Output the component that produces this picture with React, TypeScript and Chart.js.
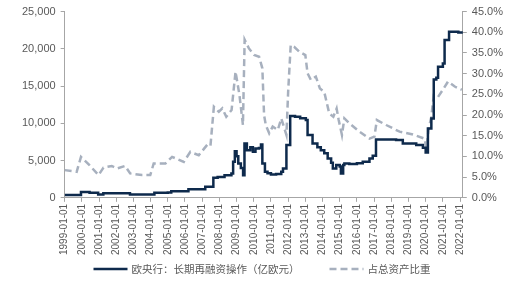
import React, { useEffect, useRef } from "react";
import { Chart, registerables } from "chart.js";

Chart.register(...registerables);

// LTRO outstanding (亿欧元), stepped series: [decimal year, value]
const ltroYears = [
  1999.0, 1999.95, 2000.45, 2000.95, 2001.25, 2002.55, 2002.8, 2004.15, 2004.22, 2005.0,
  2005.2, 2006.2, 2007.18, 2007.65, 2007.9, 2008.3, 2008.7, 2008.8, 2008.9, 2009.0,
  2009.1, 2009.25, 2009.38, 2009.46, 2009.6, 2009.8, 2009.95, 2010.1, 2010.3, 2010.42,
  2010.5, 2010.65, 2010.8, 2011.0, 2011.3, 2011.6, 2011.7, 2011.9, 2012.12, 2012.4,
  2012.7, 2013.03, 2013.13, 2013.42, 2013.7, 2013.9, 2014.1, 2014.3, 2014.5, 2014.6,
  2014.8, 2015.0, 2015.07, 2015.2, 2015.27, 2015.56, 2016.0, 2016.34, 2016.73, 2016.92,
  2017.11, 2018.28, 2018.67, 2019.45, 2019.84, 2020.0, 2020.13, 2020.33, 2020.47, 2020.62,
  2020.72, 2021.0, 2021.1, 2021.36, 2021.9, 2022.16,
];
const ltroValues = [
  380, 800, 700, 450, 630, 630, 440, 440, 670, 710,
  900, 1170, 1480, 2690, 2800, 3050, 3270, 4840, 6270, 5600,
  4600, 4000, 3050, 7300, 6400, 6800, 6200, 6630, 6700, 7150,
  4600, 3500, 3300, 3130, 3200, 3500, 3940, 7080, 10980, 10900,
  10700, 10440, 8420, 7300, 6800, 6400, 6000, 5280, 4700, 3940,
  4400, 4200, 3270, 4400, 4600, 4530, 4650, 4840, 5280, 5650,
  7840, 7750, 7300, 7080, 6720, 6090, 9310, 10660, 15900, 16130,
  17600, 18050, 21200, 22300, 22200, 22040,
];

// Share of total assets (%): [decimal year, value]
const ratioYears = [
  1999.0, 1999.7, 1999.95, 2000.4, 2000.97, 2001.26, 2001.74, 2002.04, 2002.52, 2002.81,
  2003.5, 2003.98, 2004.18, 2004.86, 2005.25, 2005.93, 2006.31, 2006.8, 2007.29, 2007.48,
  2007.68, 2007.97, 2008.17, 2008.4, 2008.71, 2008.94, 2009.17, 2009.37, 2009.47, 2009.72,
  2010.02, 2010.31, 2010.5, 2010.6, 2010.7, 2010.9, 2011.1, 2011.4, 2011.6, 2011.9,
  2012.0, 2012.15, 2012.35, 2012.65, 2013.0, 2013.13, 2013.32, 2013.61, 2013.85, 2014.1,
  2014.39, 2014.63, 2014.82, 2014.94, 2015.13, 2015.27, 2015.56, 2016.15, 2016.73, 2017.02,
  2017.16, 2017.7, 2018.48, 2019.26, 2019.94, 2020.04, 2020.18, 2020.33, 2020.47, 2020.72,
  2021.0, 2021.3, 2021.69, 2022.1,
];
const ratioValues = [
  6.7, 6.3, 9.9, 8.1, 5.5, 7.3, 7.7, 7.1, 7.7, 5.9,
  5.5, 5.5, 8.3, 8.3, 9.9, 8.7, 11.1, 10.3, 12.8, 12.5,
  22.0, 20.8, 21.6, 19.6, 21.2, 30.5, 24.8, 17.6, 38.2, 36.1,
  34.5, 34.1, 31.3, 20.0, 17.6, 15.6, 17.2, 16.4, 19.2, 15.2,
  25.6, 36.9, 36.5, 35.3, 34.5, 30.1, 28.5, 29.3, 26.4, 25.6,
  20.4, 19.6, 21.6, 18.8, 15.2, 19.2, 18.0, 16.0, 14.3, 14.8,
  18.8, 17.6, 16.0, 15.3, 14.3, 11.9, 16.8, 19.6, 24.8, 24.4,
  26.1, 28.1, 26.9, 26.1,
];

const seriesNames = ["欧央行：长期再融资操作（亿欧元）", "占总资产比重"];
const xFirstYear = 1999;
const xLastYear = 2022.16;

const DARK = "#0E2A4C";
const LIGHT = "#A7B0BE";
const AXIS = "#A6A6A6";
const TEXT = "#595959";

const legendPlugin = {
  id: "customLegend",
  afterDraw(chart: any) {
    const ctx = chart.ctx;
    const ds = chart.data.datasets;
    const font = "10.5px 'Noto Sans CJK SC', 'Liberation Sans', sans-serif";
    ctx.save();
    ctx.font = font;
    const lineW = 34;
    const textGap = 4;
    const itemGap = 30;
    const widths = ds.map((d: any) => lineW + textGap + ctx.measureText(d.label).width);
    const total = widths.reduce((a: number, b: number) => a + b, 0) + itemGap * (ds.length - 1);
    let x = 262 - total / 2;
    const y = 269;
    ds.forEach((d: any, i: number) => {
      ctx.beginPath();
      ctx.lineWidth = d.borderWidth;
      ctx.strokeStyle = d.borderColor;
      ctx.setLineDash(d.borderDash || []);
      ctx.moveTo(x, y);
      ctx.lineTo(x + lineW, y);
      ctx.stroke();
      ctx.setLineDash([]);
      ctx.fillStyle = TEXT;
      ctx.textBaseline = "middle";
      ctx.textAlign = "left";
      ctx.fillText(d.label, x + lineW + textGap, y);
      x += widths[i] + itemGap;
    });
    ctx.restore();
  },
};

export default function App() {
  const ref = useRef<HTMLCanvasElement | null>(null);
  useEffect(() => {
    if (!ref.current) return;
    const tickFont = { family: "'Liberation Sans', Arial, sans-serif", size: 11 };
    const chart = new Chart(ref.current, {
      type: "line",
      data: {
        datasets: [
          {
            label: seriesNames[0],
            data: ltroYears.map((x, i) => ({ x, y: ltroValues[i] })),
            borderColor: DARK,
            backgroundColor: DARK,
            borderWidth: 2.5,
            pointRadius: 0,
            stepped: true,
            yAxisID: "y",
            order: 1,
          },
          {
            label: seriesNames[1],
            data: ratioYears.map((x, i) => ({ x, y: ratioValues[i] })),
            borderColor: LIGHT,
            backgroundColor: LIGHT,
            borderWidth: 2.5,
            borderDash: [7, 4],
            pointRadius: 0,
            tension: 0,
            yAxisID: "y1",
            order: 2,
          },
        ],
      },
      options: {
        animation: false,
        responsive: false,
        layout: { padding: { left: 17, right: 12, top: 4, bottom: 40 } },
        plugins: { legend: { display: false }, tooltip: { enabled: false } },
        scales: {
          x: {
            type: "linear",
            min: xFirstYear,
            max: xLastYear,
            ticks: {
              stepSize: 1,
              includeBounds: false,
              autoSkip: false,
              minRotation: 90,
              maxRotation: 90,
              padding: 2,
              color: TEXT,
              font: { ...tickFont, size: 10 },
              callback: (v: any) => `${v}-01-01`,
            },
            grid: { drawOnChartArea: false, drawTicks: true, tickLength: 4, color: AXIS },
            border: { color: AXIS },
          },
          y: {
            position: "left",
            min: 0,
            max: 25000,
            ticks: {
              stepSize: 5000,
              padding: 5,
              color: TEXT,
              font: tickFont,
              callback: (v: any) => Number(v).toLocaleString("en-US"),
            },
            grid: { drawOnChartArea: false, drawTicks: true, tickLength: 4, color: AXIS },
            border: { color: AXIS },
          },
          y1: {
            position: "right",
            min: 0,
            max: 45,
            ticks: {
              stepSize: 5,
              padding: 5,
              color: TEXT,
              font: tickFont,
              callback: (v: any) => `${Number(v).toFixed(1)}%`,
            },
            grid: { drawOnChartArea: false, drawTicks: true, tickLength: 4, color: AXIS },
            border: { color: AXIS },
          },
        },
      },
      plugins: [legendPlugin],
    } as any);
    return () => chart.destroy();
  }, []);
  return (
    <div style={{ position: "fixed", left: 0, top: 0, width: 520, height: 297, background: "#fff" }}>
      <canvas ref={ref} width={520} height={297} />
    </div>
  );
}
